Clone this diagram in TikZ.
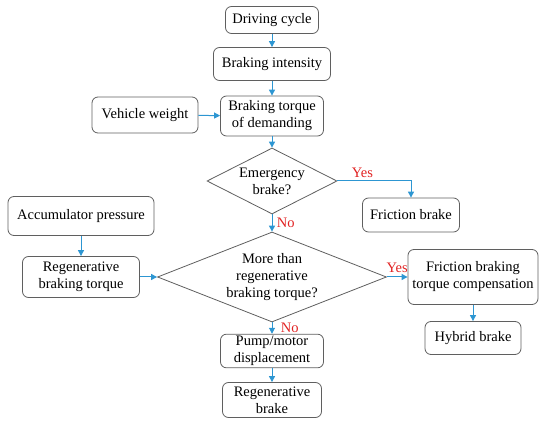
\documentclass[tikz,border=0pt]{standalone}
\usepackage{fontspec}
\setmainfont{Liberation Serif}
\newfontfamily\flowfont{Liberation Serif}
\usepackage{tikz}
\usetikzlibrary{arrows.meta, positioning, shapes.geometric}
\definecolor{flowblue}{RGB}{45,150,210}
\definecolor{boxgray}{RGB}{95,95,95}
\definecolor{answerred}{RGB}{225,35,35}

\begin{document}
\begin{tikzpicture}[
  x=1pt, y=-1pt,
  font=\flowfont\fontsize{14.5}{17}\selectfont,
  box/.style={draw=boxgray, rounded corners=6pt, align=center,
    inner sep=2pt, line width=0.8pt},
  decision/.style={draw=boxgray, diamond, aspect=2, align=center,
    inner sep=0pt, line width=0.8pt},
  arr/.style={-{Triangle[length=6pt, width=6pt]}, flowblue, line width=1pt},
  ans/.style={text=answerred}
]
  \useasboundingbox (0,0) rectangle (550,425);
  % main column
  \node[box, minimum width=93pt, minimum height=27pt] (cycle) at (272,20) {Driving cycle};
  \node[box, minimum width=117pt, minimum height=33pt] (intensity) at (272,64) {Braking intensity};
  \node[box, minimum width=103pt, minimum height=40pt] (demand) at (272,116) {Braking torque\\of demanding};
  \node[box, minimum width=106pt, minimum height=36pt] (weight) at (145,115) {Vehicle weight};
  \node[decision, minimum width=130pt, minimum height=66pt] (emergency) at (272,181) {Emergency\\brake?};
  \node[box, minimum width=97pt, minimum height=34pt] (friction) at (411,215) {Friction brake};
  \node[decision, aspect=2.5, minimum width=229pt, minimum height=90pt] (compare) at (272,277) {More than\\regenerative\\braking torque?};
  % left and right branches
  \node[box, minimum width=146pt, minimum height=39pt] (accu) at (81,216) {Accumulator pressure};
  \node[box, minimum width=117pt, minimum height=41pt] (regen) at (81,277) {Regenerative\\braking torque};
  \node[box, minimum width=130pt, minimum height=55pt] (compens) at (473,277) {Friction braking\\torque compensation};
  \node[box, minimum width=96pt, minimum height=33pt] (hybrid) at (473,338) {Hybrid brake};
  \node[box, minimum width=103pt, minimum height=33pt] (pump) at (272,351) {Pump/motor\\displacement};
  \node[box, minimum width=99pt, minimum height=35pt] (regbrake) at (272,400) {Regenerative\\brake};

  \draw[arr] (cycle) -- (intensity);
  \draw[arr] (intensity) -- (demand);
  \draw[arr] (weight) -- (demand);
  \draw[arr] (demand) -- (emergency);
  \draw[arr] (emergency.east) -| node[ans, above, pos=0.17] {Yes} (friction.north);
  \draw[arr] (emergency) -- node[ans, right, xshift=1pt] {No} (compare);
  \draw[arr] (accu) -- (regen);
  \draw[arr] (regen) -- (compare);
  \draw[arr] (compare) -- node[ans, above, yshift=1pt] {Yes} (compens);
  \draw[arr] (compens) -- (hybrid);
  \draw[arr] (compare) -- node[ans, right, xshift=5pt] {No} (pump);
  \draw[arr] (pump) -- (regbrake);
\end{tikzpicture}
\end{document}
